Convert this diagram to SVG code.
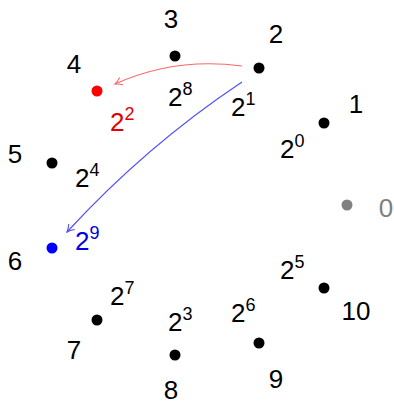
<svg xmlns="http://www.w3.org/2000/svg" width="394" height="405" viewBox="0 0 394 405">
<style>
text{font-family:"Liberation Sans",Arial,sans-serif;font-size:26px;fill:#000;text-anchor:middle}
.p{text-anchor:start}
.s{font-size:18px}
.dot{fill:#000}
</style>
<defs>
<marker id="ar" viewBox="-8 -5 10 10" refX="0" refY="0" markerWidth="10" markerHeight="10" markerUnits="userSpaceOnUse" orient="auto">
<path d="M-7,-4 Q-3,-1 0,0 Q-3,1 -7,4" fill="none" stroke="#ff6666" stroke-width="1.1"/>
</marker>
<marker id="ab" viewBox="-8 -5 10 10" refX="0" refY="0" markerWidth="10" markerHeight="10" markerUnits="userSpaceOnUse" orient="auto">
<path d="M-7,-4 Q-3,-1 0,0 Q-3,1 -7,4" fill="none" stroke="#5050ff" stroke-width="1.1"/>
</marker>
</defs>
<g id="connectors" fill="none" stroke-width="1.2">
<path d="M242,66 Q175,57 115,84" stroke="#ff6666" marker-end="url(#ar)"/>
<path d="M242,82 Q146,146 67,232" stroke="#5050ff" marker-end="url(#ab)"/>
</g>
<g id="n0"><circle cx="347" cy="205" r="5.5" fill="#808080"/><text x="386" y="217" style="fill:#808080">0</text></g>
<g id="n1"><circle class="dot" cx="324" cy="123" r="5.5"/><text x="356" y="113">1</text><text class="p" x="280" y="158">2<tspan class="s" dy="-11">0</tspan></text></g>
<g id="n2"><circle class="dot" cx="259" cy="68" r="5.5"/><text x="276" y="43">2</text><text class="p" x="231" y="116">2<tspan class="s" dy="-11">1</tspan></text></g>
<g id="n3"><circle class="dot" cx="175" cy="56" r="5.5"/><text x="171" y="28">3</text><text class="p" x="168" y="106">2<tspan class="s" dy="-11">8</tspan></text></g>
<g id="n4"><circle cx="97" cy="91" r="5.5" fill="#ff0000"/><text x="74" y="73">4</text><text class="p" x="110" y="131" style="fill:#e00000">2<tspan class="s" dy="-11">2</tspan></text></g>
<g id="n5"><circle class="dot" cx="52" cy="163" r="5.5"/><text x="15" y="163">5</text><text class="p" x="75" y="187">2<tspan class="s" dy="-11">4</tspan></text></g>
<g id="n6"><circle cx="52" cy="248" r="5.5" fill="#0000ff"/><text x="15" y="270">6</text><text class="p" x="75" y="250" style="fill:#0000e0">2<tspan class="s" dy="-11">9</tspan></text></g>
<g id="n7"><circle class="dot" cx="97" cy="320" r="5.5"/><text x="74" y="359">7</text><text class="p" x="110" y="305">2<tspan class="s" dy="-11">7</tspan></text></g>
<g id="n8"><circle class="dot" cx="175" cy="355" r="5.5"/><text x="171" y="399">8</text><text class="p" x="168" y="331">2<tspan class="s" dy="-11">3</tspan></text></g>
<g id="n9"><circle class="dot" cx="259" cy="343" r="5.5"/><text x="276" y="388">9</text><text class="p" x="231" y="322">2<tspan class="s" dy="-11">6</tspan></text></g>
<g id="n10"><circle class="dot" cx="324" cy="288" r="5.5"/><text x="356" y="320">10</text><text class="p" x="280" y="279">2<tspan class="s" dy="-11">5</tspan></text></g>
</svg>
